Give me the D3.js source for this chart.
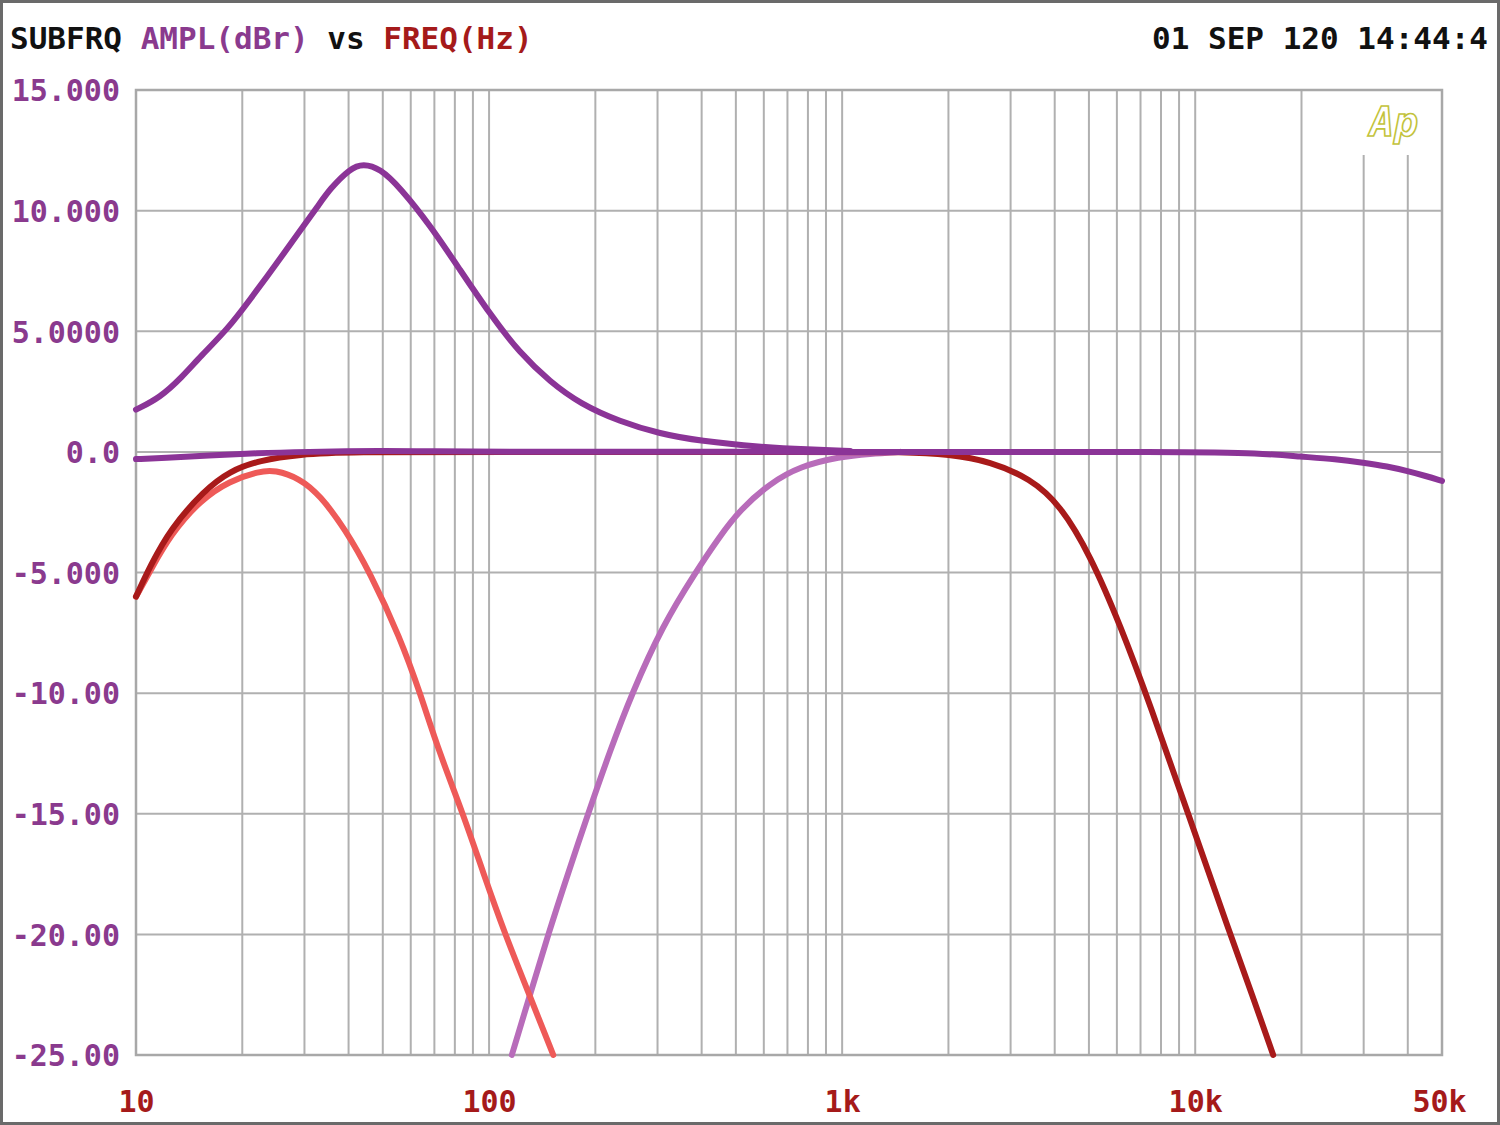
<!DOCTYPE html>
<html>
<head>
<meta charset="utf-8">
<script src="https://cdn.jsdelivr.net/npm/d3@7"></script>
<style>
html,body{margin:0;padding:0;background:#fff;}
svg{display:block;}
text{font-family:"DejaVu Sans Mono","Liberation Mono",monospace;font-weight:bold;}
</style>
</head>
<body>
<svg id="chart" width="1500" height="1125"></svg>
<script>
// ---- data ----
const yTicks = [15, 10, 5, 0, -5, -10, -15, -20, -25];
const yTickLabels = ["15.000", "10.000", "5.0000", "0.0", "-5.000", "-10.00", "-15.00", "-20.00", "-25.00"];
const xTickValues = [10, 100, 1000, 10000, 50000];
const xTickLabels = ["10", "100", "1k", "10k", "50k"];

// peaked purple (sub EQ boost)
const peakFreq = [10, 11.7, 13.5, 15.2, 18.2, 21, 25, 29.1, 32.8, 35.4, 40.4, 44, 49.1, 56, 68, 82.7, 100.7, 122, 149, 181, 235, 305, 396, 586, 800, 1054];
const peakDb   = [1.75, 2.25, 3.1, 3.95, 5.1, 6.3, 7.8, 9.15, 10.2, 10.9, 11.75, 11.95, 11.75, 10.95, 9.4, 7.55, 5.7, 4.1, 2.9, 2.0, 1.25, 0.75, 0.45, 0.2, 0.1, 0.04];

// flat purple (sum)
const flatFreq = [10, 12, 16, 22, 30, 50, 70, 100, 1000, 10000, 15000, 20000, 25000, 30000, 35000, 40000, 45000, 50000];
const flatDb   = [-0.3, -0.25, -0.15, -0.05, 0, 0.05, 0.02, 0, 0, 0, -0.05, -0.2, -0.3, -0.45, -0.6, -0.8, -1.0, -1.2];

// light red (sub low-pass)
const subFreq = [10, 11, 12.5, 15.2, 18.4, 22.4, 24.7, 29.1, 33.2, 39.1, 46, 56, 63.8, 72, 84.4, 96, 111, 130, 152];
const subDb   = [-6.0, -4.9, -3.45, -2.0, -1.2, -0.8, -0.75, -1.1, -1.8, -3.2, -5.0, -7.7, -10.0, -12.4, -15.0, -17.4, -20.0, -22.5, -25.0];

// orchid (mid high-pass)
const hpFreq = [116, 130, 147, 168, 190.7, 220, 254, 310, 384, 450, 514, 625, 759, 985, 1200, 1460];
const hpDb   = [-25.0, -22.6, -20.0, -17.4, -15.0, -12.4, -10.0, -7.2, -5.0, -3.5, -2.4, -1.3, -0.6, -0.2, -0.08, 0.0];

// dark red (band-pass)
const bpFreq = [10, 11, 12.5, 15.6, 18.4, 22.4, 29, 40, 100, 1000, 1460, 2023, 2625, 3410, 4150, 5050, 6140, 7460, 9550, 12560, 14500, 16630];
const bpDb   = [-6.0, -4.7, -3.2, -1.6, -0.8, -0.35, -0.1, 0, 0, 0, 0, -0.1, -0.4, -1.1, -2.2, -4.3, -7.2, -10.5, -15.0, -20.0, -22.5, -25.0];

// ---- layout ----
const svg = d3.select("#chart");
const pLeft = 136, pRight = 1442, pTop = 90, pBottom = 1055;

const x = d3.scaleLog().domain([10, 50000]).range([pLeft, pRight]);
const y = d3.scaleLinear().domain([-25, 15]).range([pBottom, pTop]);

// outer border
svg.append("rect").attr("x", 1.5).attr("y", 1.5).attr("width", 1497).attr("height", 1122)
  .attr("fill", "#fff").attr("stroke", "#6a6a6a").attr("stroke-width", 3);

// grid
const grid = svg.append("g");
const gridFreqs = [];
for (let dec = 10; dec <= 10000; dec *= 10) {
  for (let m = 1; m <= 9; m++) {
    const f = dec * m;
    if (f > 10 && f < 50000) gridFreqs.push(f);
  }
}
grid.selectAll("line.v").data(gridFreqs).enter().append("line")
  .attr("x1", d => x(d)).attr("x2", d => x(d))
  .attr("y1", d => (d === 30000 || d === 40000) ? 155 : pTop)
  .attr("y2", pBottom)
  .attr("stroke", "#b0b0b0").attr("stroke-width", 2);
grid.selectAll("line.h").data(yTicks.filter(v => v !== 15 && v !== -25)).enter().append("line")
  .attr("x1", pLeft).attr("x2", pRight)
  .attr("y1", d => y(d)).attr("y2", d => y(d))
  .attr("stroke", "#b0b0b0").attr("stroke-width", 2);
svg.append("rect").attr("x", pLeft).attr("y", pTop).attr("width", pRight - pLeft).attr("height", pBottom - pTop)
  .attr("fill", "none").attr("stroke", "#a8a8a8").attr("stroke-width", 2.5);

// axes labels
const yAxis = d3.axisLeft(y).tickValues(yTicks).tickSize(0)
  .tickFormat((d, i) => yTickLabels[i]);
const gy = svg.append("g").attr("transform", `translate(${pLeft - 16},0)`).call(yAxis);
gy.select(".domain").remove();
gy.selectAll("text").attr("fill", "#8a3a8e").attr("font-size", 30)
  .attr("font-family", "DejaVu Sans Mono").attr("font-weight", "bold").attr("dx", 0).attr("dy", "0.36em").attr("x", 0);

const xAxis = d3.axisBottom(x).tickValues(xTickValues).tickSize(0)
  .tickFormat((d, i) => xTickLabels[i]);
const gx = svg.append("g").attr("transform", `translate(0,${1090})`).call(xAxis);
gx.select(".domain").remove();
gx.selectAll("text").attr("fill", "#a51a1a").attr("font-size", 30)
  .attr("font-family", "DejaVu Sans Mono").attr("font-weight", "bold").attr("y", 0).attr("dy", "0.72em");
gx.selectAll(".tick").filter(d => d === 50000).select("text").attr("dx", -3);

// title
const title = svg.append("text").attr("x", 10).attr("y", 49).attr("font-size", 31);
title.append("tspan").attr("fill", "#111").text("SUBFRQ ");
title.append("tspan").attr("fill", "#8a3a8e").text("AMPL(dBr) ");
title.append("tspan").attr("fill", "#111").text("vs ");
title.append("tspan").attr("fill", "#a51a1a").text("FREQ(Hz)");

svg.append("text").attr("x", 1488).attr("y", 49).attr("font-size", 31).attr("fill", "#111")
  .attr("text-anchor", "end").text("01 SEP 120 14:44:4");

// Ap logo
svg.append("text").attr("x", 1370).attr("y", 136).attr("font-size", 40)
  .attr("font-family", "DejaVu Sans").attr("font-weight", "normal").attr("font-style", "italic")
  .attr("fill", "none").attr("stroke", "#c3c33c").attr("stroke-width", 1.6).text("Ap");

// curves
svg.append("clipPath").attr("id", "plotclip").append("rect")
  .attr("x", pLeft - 4).attr("y", pTop - 4).attr("width", pRight - pLeft + 8).attr("height", pBottom - pTop + 8);

const line = d3.line().x(d => x(d[0])).y(d => y(d[1])).curve(d3.curveBasis);
const series = [
  {f: hpFreq, v: hpDb, c: "#b86cba"},
  {f: subFreq, v: subDb, c: "#ee5a58"},
  {f: bpFreq, v: bpDb, c: "#a81a1a"},
  {f: peakFreq, v: peakDb, c: "#8b3497"},
  {f: flatFreq, v: flatDb, c: "#8b3497"}
];
const gc = svg.append("g").attr("clip-path", "url(#plotclip)");
series.forEach(s => {
  const pts = s.f.map((f, i) => [f, s.v[i]]);
  gc.append("path").attr("d", line(pts)).attr("fill", "none")
    .attr("stroke", s.c).attr("stroke-width", 6).attr("stroke-linejoin", "round").attr("stroke-linecap", "round");
});
</script>
</body>
</html>
